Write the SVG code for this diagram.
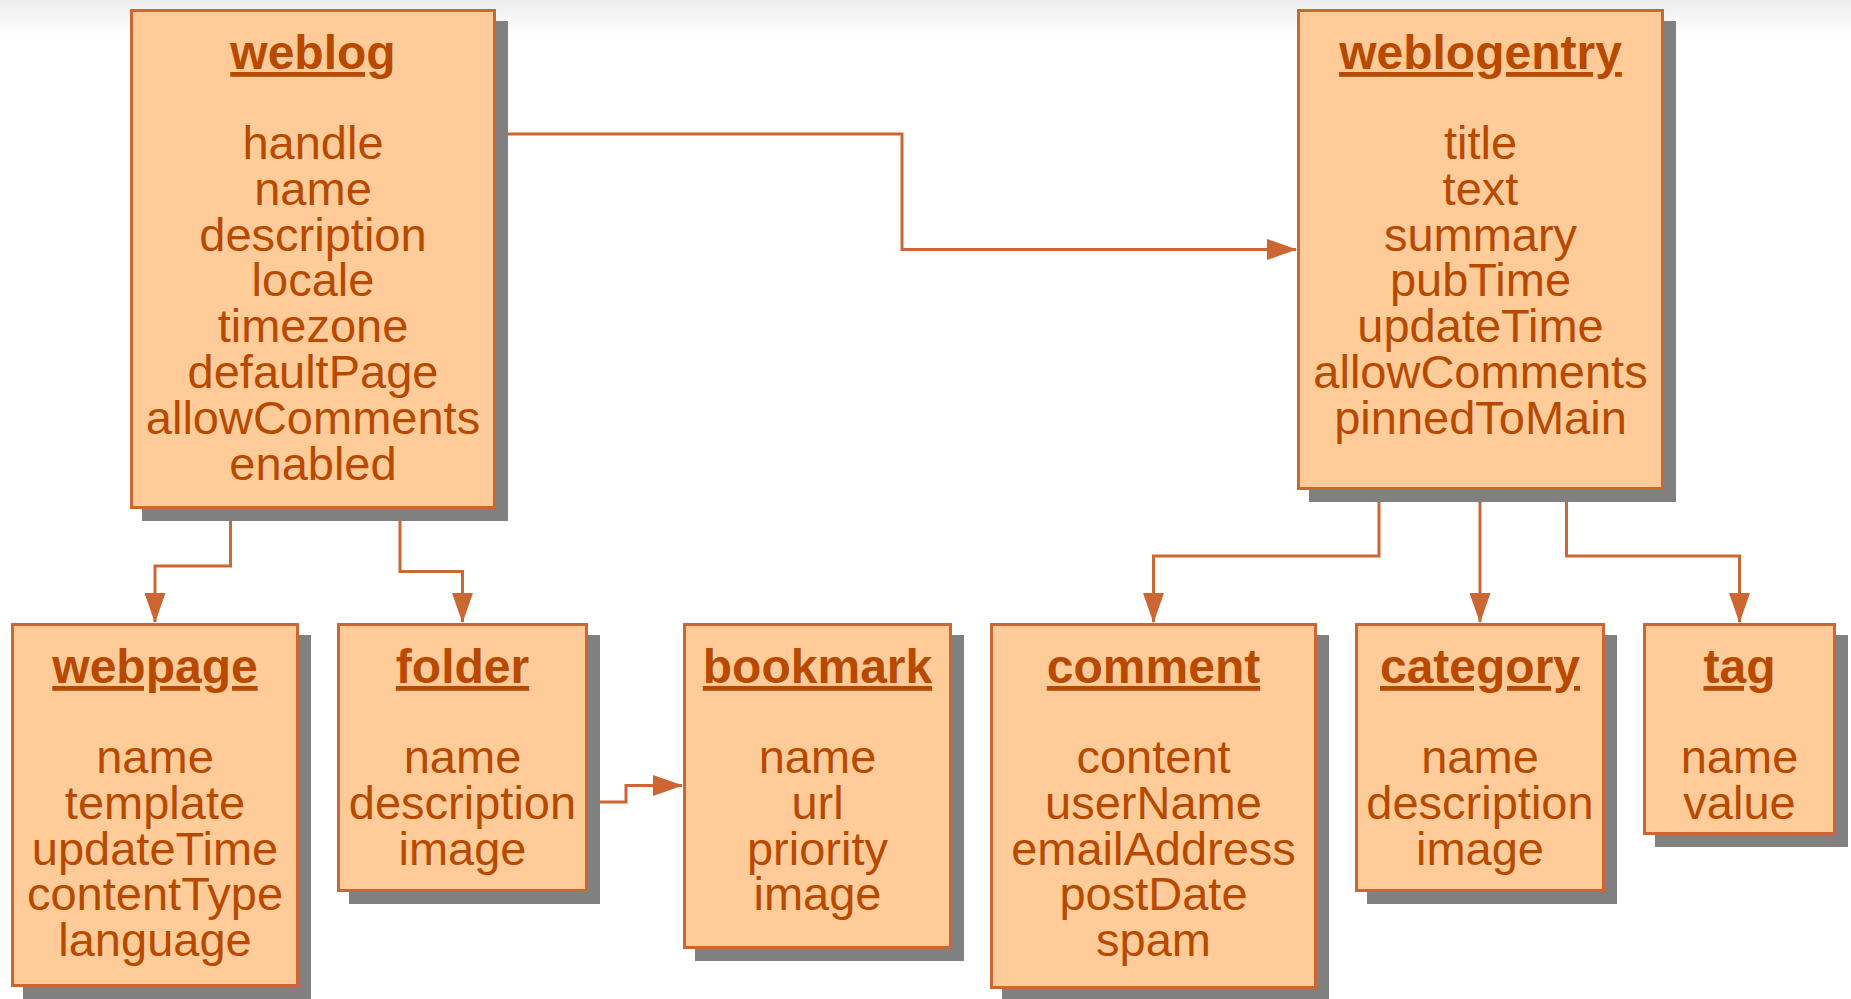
<svg xmlns="http://www.w3.org/2000/svg" width="1851" height="999" viewBox="0 0 1851 999">
<defs>
<linearGradient id="topfade" x1="0" y1="0" x2="0" y2="1">
<stop offset="0" stop-color="#ededed"/>
<stop offset="1" stop-color="#ffffff"/>
</linearGradient>
<marker id="arrow" viewBox="0 0 30 21" refX="29" refY="10.5" markerWidth="30" markerHeight="21" markerUnits="userSpaceOnUse" orient="auto">
<path d="M0,0 L30,10.5 L0,21 z" fill="#CC6633"/>
</marker>
</defs>
<style>
.shadow{fill:#808080;}
.box{fill:#FFCC99;stroke:#CC6633;stroke-width:3;}
.title{font-family:"Liberation Sans",Arial,sans-serif;font-weight:bold;font-size:48px;fill:#B84A00;text-anchor:middle;text-decoration:underline;text-decoration-skip-ink:none;}
.attr{font-family:"Liberation Sans",Arial,sans-serif;font-size:47px;fill:#B84A00;text-anchor:middle;}
.conn{fill:none;stroke:#CC6633;stroke-width:3;}
</style>
<rect x="0" y="0" width="1851" height="999" fill="#ffffff"/>
<rect x="0" y="0" width="1851" height="36" fill="url(#topfade)"/>

<g id="connectors">
<path class="conn" d="M496,134 H902 V249.5 H1296" marker-end="url(#arrow)"/>
<path class="conn" d="M230.5,509 V566 H155 V622" marker-end="url(#arrow)"/>
<path class="conn" d="M400,509 V571.5 H462.5 V622" marker-end="url(#arrow)"/>
<path class="conn" d="M588,802 H626 V785.5 H682" marker-end="url(#arrow)"/>
<path class="conn" d="M1379,490 V556 H1153.5 V622" marker-end="url(#arrow)"/>
<path class="conn" d="M1480,490 V622" marker-end="url(#arrow)"/>
<path class="conn" d="M1566.5,490 V556 H1739.5 V622" marker-end="url(#arrow)"/>
</g>

<g id="weblog">
<rect class="shadow" x="142" y="21" width="366" height="500"/>
<rect class="box" x="131.5" y="10.5" width="363" height="497"/>
<text class="title" x="313" y="69">weblog</text>
<text class="attr" x="313" y="159">handle<tspan x="313" dy="45.8">name</tspan><tspan x="313" dy="45.8">description</tspan><tspan x="313" dy="45.8">locale</tspan><tspan x="313" dy="45.8">timezone</tspan><tspan x="313" dy="45.8">defaultPage</tspan><tspan x="313" dy="45.8">allowComments</tspan><tspan x="313" dy="45.8">enabled</tspan></text>
</g>

<g id="weblogentry">
<rect class="shadow" x="1309" y="21" width="367" height="481"/>
<rect class="box" x="1298.5" y="10.5" width="364" height="478"/>
<text class="title" x="1480.5" y="69">weblogentry</text>
<text class="attr" x="1480.5" y="159">title<tspan x="1480.5" dy="45.8">text</tspan><tspan x="1480.5" dy="45.8">summary</tspan><tspan x="1480.5" dy="45.8">pubTime</tspan><tspan x="1480.5" dy="45.8">updateTime</tspan><tspan x="1480.5" dy="45.8">allowComments</tspan><tspan x="1480.5" dy="45.8">pinnedToMain</tspan></text>
</g>

<g id="webpage">
<rect class="shadow" x="23" y="635" width="288" height="364"/>
<rect class="box" x="12.5" y="624.5" width="285" height="361"/>
<text class="title" x="155" y="683">webpage</text>
<text class="attr" x="155" y="773">name<tspan x="155" dy="45.8">template</tspan><tspan x="155" dy="45.8">updateTime</tspan><tspan x="155" dy="45.8">contentType</tspan><tspan x="155" dy="45.8">language</tspan></text>
</g>

<g id="folder">
<rect class="shadow" x="349" y="635" width="251" height="269"/>
<rect class="box" x="338.5" y="624.5" width="248" height="266"/>
<text class="title" x="462.5" y="683">folder</text>
<text class="attr" x="462.5" y="773">name<tspan x="462.5" dy="45.8">description</tspan><tspan x="462.5" dy="45.8">image</tspan></text>
</g>

<g id="bookmark">
<rect class="shadow" x="695" y="635" width="269" height="326"/>
<rect class="box" x="684.5" y="624.5" width="266" height="323"/>
<text class="title" x="817.5" y="683">bookmark</text>
<text class="attr" x="817.5" y="773">name<tspan x="817.5" dy="45.8">url</tspan><tspan x="817.5" dy="45.8">priority</tspan><tspan x="817.5" dy="45.8">image</tspan></text>
</g>

<g id="comment">
<rect class="shadow" x="1002" y="635" width="327" height="366"/>
<rect class="box" x="991.5" y="624.5" width="324" height="363"/>
<text class="title" x="1153.5" y="683">comment</text>
<text class="attr" x="1153.5" y="773">content<tspan x="1153.5" dy="45.8">userName</tspan><tspan x="1153.5" dy="45.8">emailAddress</tspan><tspan x="1153.5" dy="45.8">postDate</tspan><tspan x="1153.5" dy="45.8">spam</tspan></text>
</g>

<g id="category">
<rect class="shadow" x="1367" y="635" width="250" height="269"/>
<rect class="box" x="1356.5" y="624.5" width="247" height="266"/>
<text class="title" x="1480" y="683">category</text>
<text class="attr" x="1480" y="773">name<tspan x="1480" dy="45.8">description</tspan><tspan x="1480" dy="45.8">image</tspan></text>
</g>

<g id="tag">
<rect class="shadow" x="1655" y="635" width="193" height="212"/>
<rect class="box" x="1644.5" y="624.5" width="190" height="209"/>
<text class="title" x="1739.5" y="683">tag</text>
<text class="attr" x="1739.5" y="773">name<tspan x="1739.5" dy="45.8">value</tspan></text>
</g>
</svg>
